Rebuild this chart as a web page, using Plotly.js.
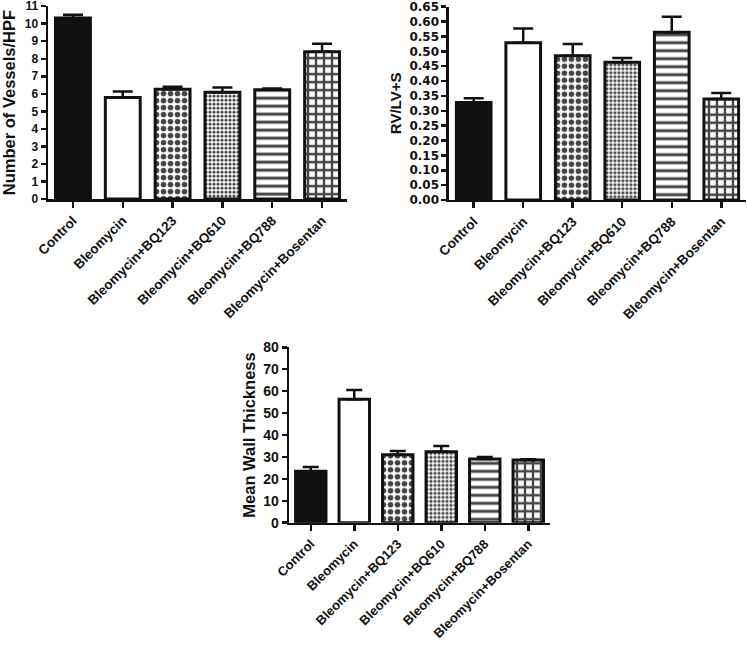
<!DOCTYPE html>
<html>
<head>
<meta charset="utf-8">
<script src="https://cdn.plot.ly/plotly-3.0.1.min.js"></script>
<style>
  html, body { margin: 0; padding: 0; background: #ffffff; }
  #chart { width: 747px; height: 647px; }
</style>
</head>
<body>
<div id="chart"></div>
<script>
// ---- data ----
var categories = ["Control", "Bleomycin", "Bleomycin+BQ123", "Bleomycin+BQ610", "Bleomycin+BQ788", "Bleomycin+Bosentan"];

var vessels    = [10.32, 5.79, 6.26, 6.09, 6.23, 8.40];
var vesselsErr = [0.19, 0.34, 0.14, 0.27, 0.07, 0.45];

var rvlv       = [0.328, 0.529, 0.485, 0.463, 0.564, 0.340];
var rvlvErr    = [0.014, 0.048, 0.040, 0.015, 0.052, 0.020];

var wall       = [23.5, 56.3, 31.0, 32.4, 29.1, 28.6];
var wallErr    = [1.9, 4.2, 1.7, 2.6, 0.9, 0.4];

var yTitles = ["Number of Vessels/HPF", "RV/LV+S", "Mean Wall Thickness"];

// ---- styling ----
var FONT = "Liberation Sans, Arial, Helvetica, sans-serif";
var WIDEFONT = "DejaVu Sans, Liberation Sans, sans-serif";
var fillColors = ["#111111", "#ffffff", "#ffffff", "#ffffff", "#ffffff", "#ffffff"];
var pattern = {
  shape:    ["", "", ".", ".", "-", "+"],
  size:     [8, 8, 7, 4, 8, 8],
  solidity: [0.3, 0.3, 0.5, 0.5, 0.375, 0.5],
  fgcolor: "#111111",
  fgopacity: 1,
  fillmode: "overlay"
};

function zeros(a) { return a.map(function () { return 0; }); }

function barTrace(vals, errs, xa, ya, capW) {
  return {
    type: "bar",
    x: categories,
    y: vals,
    xaxis: xa,
    yaxis: ya,
    marker: {
      color: fillColors,
      line: { color: "#111111", width: 3 },
      pattern: pattern
    },
    error_y: {
      type: "data",
      symmetric: false,
      array: errs,
      arrayminus: zeros(errs),
      color: "#111111",
      thickness: 2.5,
      width: capW
    },
    hoverinfo: "skip"
  };
}

var data = [
  barTrace(vessels, vesselsErr, "x", "y", 10),
  barTrace(rvlv, rvlvErr, "x2", "y2", 10),
  barTrace(wall, wallErr, "x3", "y3", 8)
];

function xAxis(domain, anchor, fsize) {
  return {
    domain: domain,
    anchor: anchor,
    type: "category",
    range: [-0.5, 5.5],
    showline: true,
    linecolor: "#111111",
    linewidth: 2.5,
    ticks: "outside",
    ticklen: 6,
    tickwidth: 2.5,
    tickcolor: "#111111",
    tickangle: -45,
    showgrid: false,
    zeroline: false,
    tickfont: { family: FONT, size: fsize, color: "#111111", weight: "bold" }
  };
}

function yAxis(domain, anchor, range, dtick, title, fmt, tfont, tsize, titleSize, standoff) {
  var ax = {
    domain: domain,
    anchor: anchor,
    range: range,
    dtick: dtick,
    tick0: 0,
    showline: true,
    linecolor: "#111111",
    linewidth: 2.5,
    ticks: "outside",
    ticklen: 5,
    tickwidth: 2.5,
    tickcolor: "#111111",
    ticklabeloverflow: "allow",
    showgrid: false,
    zeroline: false,
    tickfont: { family: tfont, size: tsize, color: "#111111", weight: "bold" },
    title: {
      text: title,
      font: { family: FONT, size: titleSize, color: "#111111", weight: "bold" },
      standoff: standoff
    }
  };
  if (fmt) ax.tickformat = fmt;
  return ax;
}

var layout = {
  width: 747,
  height: 647,
  margin: { l: 0, r: 0, t: 0, b: 0 },
  paper_bgcolor: "#ffffff",
  plot_bgcolor: "rgba(0,0,0,0)",
  showlegend: false,
  bargap: 0.3,
  xaxis:  xAxis([0.0643, 0.4645], "y", 13.5),
  yaxis:  yAxis([0.6924, 0.9905], "x", [0, 11.0005], 1, yTitles[0], null, FONT, 12, 16.5, 5),
  xaxis2: xAxis([0.601, 0.9987], "y2", 13.5),
  yaxis2: yAxis([0.6909, 0.9896], "x2", [0, 0.65005], 0.05, yTitles[1], ".2f", WIDEFONT, 12, 15, 4),
  xaxis3: xAxis([0.3869, 0.7363], "y3", 13),
  yaxis3: yAxis([0.1921, 0.4632], "x3", [0, 80], 10, yTitles[2], null, FONT, 14, 16.5, 4)
};

Plotly.newPlot("chart", data, layout, { displayModeBar: false, staticPlot: true });
</script>
</body>
</html>
